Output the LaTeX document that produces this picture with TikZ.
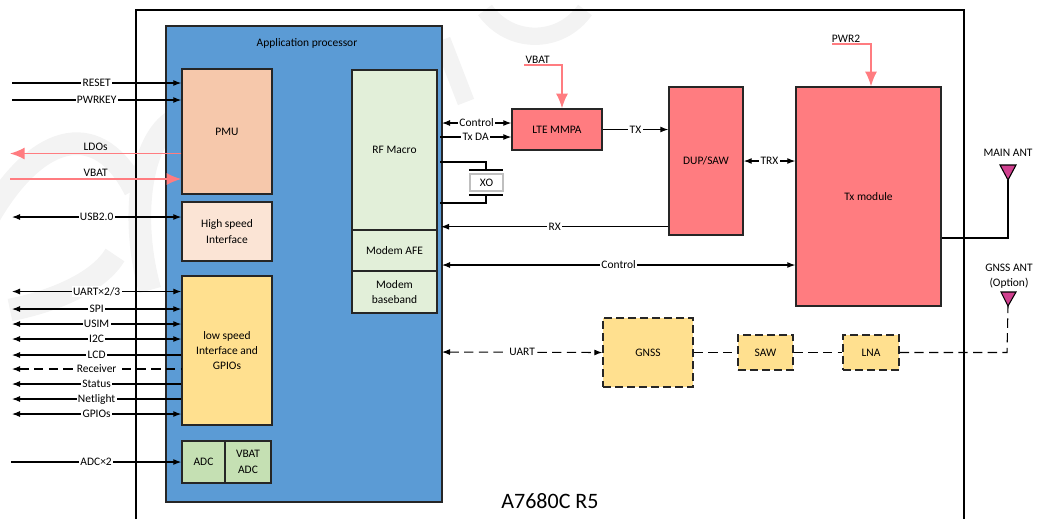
\documentclass[tikz,border=0pt]{standalone}
\usepackage{fontspec}
\setmainfont{Carlito}
\usepackage{xcolor}
\usetikzlibrary{arrows.meta}
\definecolor{apblue}{HTML}{5B9BD5}
\definecolor{pmuorange}{HTML}{F6C8AB}
\definecolor{hsorange}{HTML}{FBE4D5}
\definecolor{lsyellow}{HTML}{FFE08F}
\definecolor{adcgreen}{HTML}{C5E0B3}
\definecolor{rfgreen}{HTML}{E2EFD9}
\definecolor{pared}{HTML}{FF7C80}
\definecolor{antpink}{HTML}{D0408F}
\definecolor{wmgray}{HTML}{F3F3F3}
\tikzset{
  block/.style={draw=black!85,line width=1.1pt,inner sep=0pt,align=center,font=\fontsize{8.6}{11.5}\selectfont},
  dashblock/.style={block,fill=lsyellow,dash pattern=on 6pt off 3pt},
  sig/.style={black,line width=.8pt},
  pwr/.style={pared,line width=1.1pt},
  dsig/.style={sig,dash pattern=on 7pt off 4pt},
  lab/.style={fill=white,inner sep=1pt,font=\fontsize{8.6}{10}\selectfont},
  free/.style={inner sep=0pt,align=center,font=\fontsize{8.6}{11.5}\selectfont},
  >={Latex[length=6pt,width=4.5pt]},
  bigtip/.style={>={Latex[length=11pt,width=9pt]}}
}
\begin{document}
\begin{tikzpicture}[x=0.75pt,y=-0.75pt]
\useasboundingbox (0,0) rectangle (1038,519);
\draw [wmgray,line width=17pt] (-10,215) .. controls (40,130) and (100,120) .. (135,190);
\draw [wmgray,line width=17pt] (10,310) .. controls (60,300) and (100,280) .. (115,255);
\draw [wmgray,line width=17pt] (150,290) .. controls (130,220) and (140,140) .. (175,120);
\draw [wmgray,line width=13pt] (442,40) -- (466,102);
\draw [wmgray,line width=13pt] (485,10) .. controls (510,45) and (560,45) .. (585,10);

\coordinate (framea) at (136,519);
\coordinate (frameb) at (964,10);
\coordinate (framec) at (964,519);
\draw [black,line width=1.5pt] (framea) |- (frameb) -- (framec);

\node [block,fill=apblue,minimum width=207pt,minimum height=357pt] (ap) at (304,264) {};
\node [free] (aptitle) at (307,43) {Application processor};

\node [block,fill=pmuorange,minimum width=67.5pt,minimum height=93.75pt] (pmu) at (227,131.5) {PMU};
\node [block,fill=hsorange,minimum width=67.5pt,minimum height=44.25pt] (hs) at (227,231.5) {High speed\\Interface};
\node [block,fill=lsyellow,minimum width=67.5pt,minimum height=111.75pt] (ls) at (227,350.5) {low speed\\Interface and\\GPIOs};
\node [block,fill=adcgreen,minimum width=32.25pt,minimum height=31.5pt] (adc) at (203.5,462) {ADC};
\node [block,fill=adcgreen,minimum width=34.5pt,minimum height=31.5pt] (vbatadc) at (248,462) {VBAT\\ADC};

\node [block,fill=rfgreen,minimum width=63.75pt,minimum height=120pt] (rf) at (394.5,150) {RF Macro};
\node [block,fill=rfgreen,minimum width=63.75pt,minimum height=30.75pt] (afe) at (394.5,250.5) {Modem AFE};
\node [block,fill=rfgreen,minimum width=63.75pt,minimum height=31.5pt] (bb) at (394.5,292) {Modem\\baseband};

\node [block,fill=pared,minimum width=67.5pt,minimum height=30.75pt] (mmpa) at (557,129.5) {LTE MMPA};
\node [block,fill=pared,minimum width=55.5pt,minimum height=111pt] (dup) at (706,161) {DUP/SAW};
\node [block,fill=pared,minimum width=108.75pt,minimum height=164.25pt] (tx) at (868.5,196.5) {Tx module};

\node [dashblock,minimum width=67.5pt,minimum height=51.75pt] (gnss) at (648,352.5) {GNSS};
\node [dashblock,minimum width=41.25pt,minimum height=26.25pt] (saw) at (765.5,352.5) {SAW};
\node [dashblock,minimum width=42pt,minimum height=26.25pt] (lna) at (871,352.5) {LNA};

\node [draw=black!25,fill=white,line width=.8pt,minimum width=24.75pt,minimum height=12.75pt,inner sep=0pt,font=\fontsize{8.6}{10}\selectfont] (xo) at (486.5,182.5) {XO};
\coordinate (xotopl) at (469,170);
\coordinate (xotopr) at (503,170);
\coordinate (xobotl) at (469,195);
\coordinate (xobotr) at (503,195);
\coordinate (xotopm) at (486,170);
\coordinate (xobotm) at (486,195);
\coordinate (xoa) at (440,162);
\coordinate (xob) at (440,203);
\draw [sig,line width=1pt] (xotopl) -- (xotopr);
\draw [sig,line width=1pt] (xobotl) -- (xobotr);
\draw [sig] (xoa) -| (xotopm);
\draw [sig] (xob) -| (xobotm);

\foreach \sname/\sy/\stip/\stext in {reset/83/->/RESET,pwrkey/100/->/PWRKEY,usb/217/<->/USB2.0,
  uart/291.5/<->/UART×2\slash 3,spi/309/<->/SPI,usim/324/<->/USIM,i2c/339/<->/I2C,lcd/355/<-/LCD,
  status/384/<-/Status,netlight/399/<-/Netlight,gpios/414/<->/GPIOs}
{
  \coordinate (\sname in) at (12,\sy);
  \draw [sig,\stip] (\sname in) -- (\sname in -| ls.west) node [lab,midway] (\sname lab) {\stext};
}
\coordinate (adcin) at (11,462);
\draw [sig,->] (adcin) -- (adc.west) node [lab,midway] (adclab) {ADC×2};
\coordinate (recvin) at (12,369);
\draw [dsig,<-] (recvin) -- (recvin -| ls.west) node [lab,midway] (recvlab) {Receiver};

\coordinate (ldoout) at (10,153.5);
\coordinate (vbatin) at (10,179);
\draw [pwr,bigtip,->] (ldoout -| pmu.west) -- (ldoout) node [free,midway,above=1.5pt,black] (ldolab) {LDOs};
\draw [pwr,bigtip,->] (vbatin) -- (vbatin -| pmu.west) node [free,midway,above=1.5pt,black] (vbatlab) {VBAT};

\coordinate (pavbat) at (524,65);
\draw [pwr,bigtip,->] (pavbat) -| (mmpa.north -| 562,0) node [free,pos=.18,above=0.5pt,black] (pavbatlab) {VBAT};
\coordinate (txpwr) at (832,44);
\draw [pwr,bigtip,->] (txpwr) -| (tx.north -| 871,0) node [free,pos=.18,above=0.5pt,black] (txpwrlab) {PWR2};

\coordinate (ctla) at (442,123);
\coordinate (txda) at (440,137);
\coordinate (rxend) at (441,226.7);
\coordinate (ctlb) at (442,265);
\coordinate (uartend) at (442,352);
\draw [sig,<->] (ctla) -- (ctla -| mmpa.west) node [lab,midway] (ctlalab) {Control};
\draw [sig,->] (txda) -- (txda -| mmpa.west) node [lab,midway] (txdalab) {Tx DA};
\draw [sig,->] (mmpa.east) -- (mmpa.east -| dup.west) node [lab,midway] (txlab) {TX};
\draw [sig,->] (rxend -| dup.west) -- (rxend) node [lab,midway] (rxlab) {RX};
\draw [sig,<->] (ctlb) -- (ctlb -| tx.west) node [lab,midway] (ctlblab) {Control};
\draw [sig,<->] (dup.east) -- (dup.east -| tx.west) node [lab,midway] (trxlab) {TRX};

\draw [dsig,<->] (uartend) -- (gnss.west) node [lab,midway] (uartlab) {UART};
\draw [dsig] (gnss.east) -- (saw.west);
\draw [dsig] (saw.east) -- (lna.west);

\coordinate (mainant) at (1008,180);
\coordinate (mainanta) at (1000,165);
\coordinate (mainantb) at (1016,165);
\coordinate (maincorner) at (1008,238);
\draw [sig,fill=antpink] (mainanta) -- (mainantb) -- (mainant) -- cycle;
\draw [sig] (mainant) -- (maincorner) -- (maincorner -| tx.east);
\node [free] (mainlab) at (1008,153) {MAIN ANT};

\coordinate (gnssant) at (1008,306);
\coordinate (gnssanta) at (1001,292);
\coordinate (gnssantb) at (1016,292);
\coordinate (gnsscorner) at (1007,352.5);
\draw [sig,fill=antpink] (gnssanta) -- (gnssantb) -- (gnssant) -- cycle;
\draw [dsig] (lna.east) -- (gnsscorner) -- (gnssant);
\node [free] (gnssantlab) at (1009,276) {GNSS ANT\\(Option)};

\node [font=\fontsize{16.5}{20}\selectfont,inner sep=0pt] (modlab) at (550,501) {A7680C R5};
\end{tikzpicture}
\end{document}
